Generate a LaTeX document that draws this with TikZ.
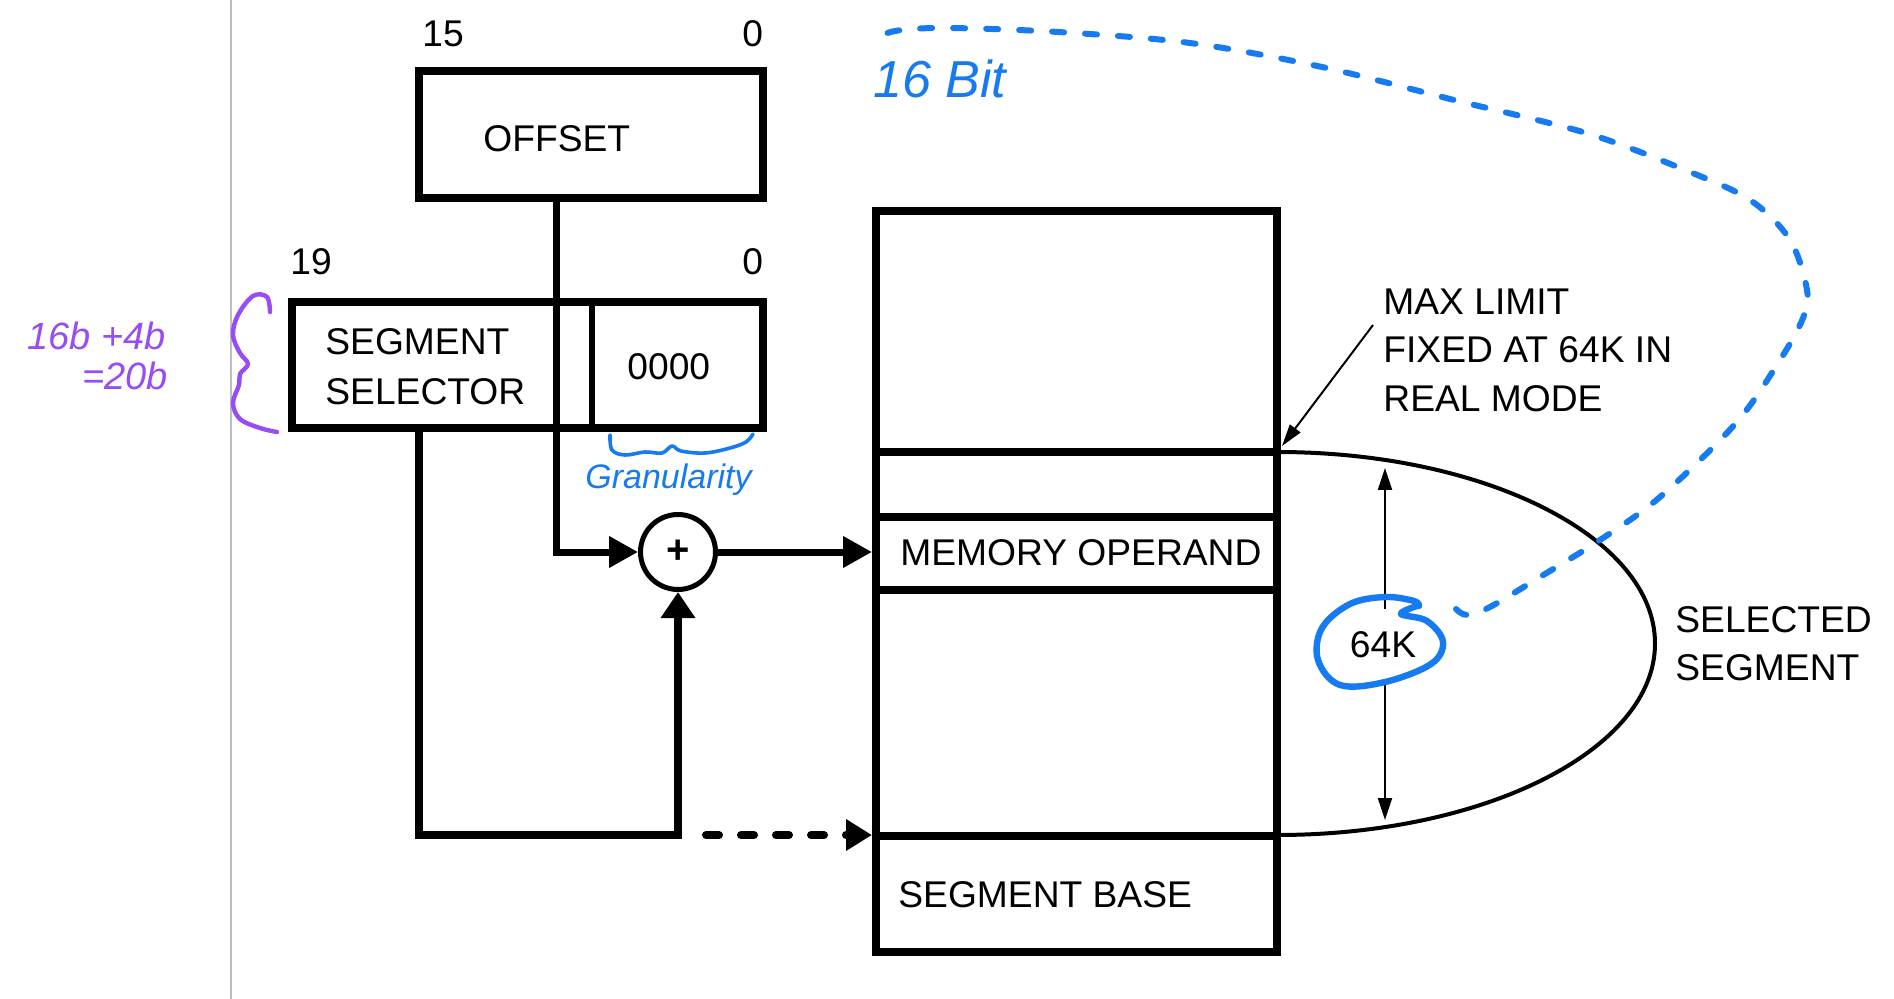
\documentclass[tikz,border=0pt]{standalone}
\usepackage{fontspec}
\setmainfont{Liberation Sans}
\usetikzlibrary{arrows.meta}
\definecolor{inkblue}{RGB}{22,122,240}
\definecolor{inkpurple}{RGB}{152,76,245}
\definecolor{rulegray}{RGB}{190,190,190}
\begin{document}
\begin{tikzpicture}[x=0.5pt,y=-0.5pt,
  lbl/.style={inner sep=0pt, anchor=base west, font=\fontsize{18.6pt}{22pt}\selectfont},
  regbox/.style={draw, line width=4pt, inner sep=0pt},
  conn/.style={line width=3.5pt},
  bigtip/.style={-{Triangle[length=14.5pt,width=15pt]}},
  uptip/.style={-{Triangle[length=13pt,width=16.5pt]}},
  thintip/.style={-{Triangle[length=11pt,width=6.5pt]}},
  hand/.style={inner sep=0pt, anchor=base west},
  inkline/.style={line width=3.2pt, line cap=round, line join=round}
]
\fill[white] (0,0) rectangle (1894,999);
\useasboundingbox (0,0) rectangle (1894,999);

% margin rule
\draw[rulegray, line width=1.3pt] (231,0) -- (231,999);

% registers and memory
\node[regbox, minimum width=172pt, minimum height=63.25pt] (offset) at (591,134.75) {};
\node[regbox, minimum width=235.5pt, minimum height=63pt] (seg) at (527.5,365) {};
\draw[line width=3.2pt] (592,302) -- (592,428);
\node[regbox, minimum width=200.5pt, minimum height=370.5pt] (mem) at (1076.5,581.5) {};
\draw[line width=4.3pt] (876,452) -- (1277,452);
\draw[line width=4pt] (876,517) -- (1277,517);
\draw[line width=4pt] (876,590) -- (1277,590);
\draw[line width=4.3pt] (876,836) -- (1277,836);
\node[draw, circle, line width=2.5pt, minimum size=37.5pt, inner sep=0pt,
      font=\bfseries\fontsize{20pt}{20pt}\selectfont] (adder) at (678,552) {+};

% labels
\node[lbl] (b15) at (422,47) {15};
\node[lbl] (b0a) at (742,47) {0};
\node[lbl] (toff) at (483,152) {OFFSET};
\node[lbl] (b19) at (290,275) {19};
\node[lbl] (b0b) at (742,275) {0};
\node[lbl] (tseg1) at (325,355) {SEGMENT};
\node[lbl] (tseg2) at (325,405) {SELECTOR};
\node[lbl] (tzero) at (627,380) {0000};
\node[lbl] (tmo) at (900,565) {MEMORY OPERAND};
\node[lbl] (tsb) at (898,907) {SEGMENT BASE};
\node[lbl] (tm1) at (1383,315) {MAX LIMIT};
\node[lbl] (tm2) at (1383,363) {FIXED AT 64K IN};
\node[lbl] (tm3) at (1383,412) {REAL MODE};
\node[lbl] (ts1) at (1675,632) {SELECTED};
\node[lbl] (ts2) at (1675,680) {SEGMENT};

% connectors
\coordinate (oj) at (556,552);
\draw[conn, bigtip] (offset.south -| oj) -- (oj) -- (adder.west);
\draw[conn, bigtip] (adder.east) -- (adder.east -| mem.west);
\coordinate (sj) at (419,835);
\coordinate (bj) at (678,835);
\draw[line width=4pt, uptip] (seg.south -| sj) -- (sj) -- (bj) -- (adder.south);
\coordinate (ds) at (706,835);
\draw[line width=4pt, line cap=round, dash pattern=on 6.5pt off 11pt,
      -{Triangle[length=13pt,width=15pt]}] (ds) -- (bj -| mem.west);

% selected segment
\coordinate (lim) at (1277,452);
\draw[line width=2pt] (lim) arc[start angle=90, end angle=-90, x radius=189pt, y radius=95.75pt];
\coordinate (dt) at (1385,468);
\coordinate (db) at (1385,820);
\draw[line width=1pt, {Triangle[length=11pt,width=7pt]}-{Triangle[length=11pt,width=7pt]}] (dt) -- (db);
\node[fill=white, inner xsep=1pt, inner ysep=0pt, minimum height=36pt,
      font=\fontsize{18.6pt}{22pt}\selectfont] (sz) at (1383,645) {64K};
\coordinate (ls) at (1373,325);
\coordinate (limtip) at (1282,446);
\draw[line width=1pt, thintip] (ls) -- (limtip);

% handwritten annotations
\node[hand, text=inkblue, font=\itshape\fontsize{26pt}{26pt}\selectfont] (h16) at (873,98) {16 Bit};
\node[hand, text=inkblue, font=\itshape\fontsize{17pt}{17pt}\selectfont] (hgr) at (585,488) {Granularity};
\node[hand, text=inkpurple, font=\itshape\fontsize{19pt}{19pt}\selectfont] (hsum1) at (27,350) {16b +4b};
\node[hand, text=inkpurple, font=\itshape\fontsize{19pt}{19pt}\selectfont] (hsum2) at (82,390) {=20b};

\draw[inkpurple, line width=2.2pt, line cap=round, line join=round] plot[smooth, tension=0.6] coordinates {
  (270,312) (267,297) (253,296) (238,315) (233,335) (240,353) (248,364)
  (240,374) (239,385) (233,403) (240,419) (260,428) (277,432)};
\draw[inkblue, line width=1.8pt, line cap=round, line join=round] plot[smooth, tension=0.6] coordinates {
  (610,435) (612,450) (625,455) (645,452) (662,453) (672,446)
  (681,451) (705,453) (730,448) (746,442) (753,434)};
\draw[inkblue, inkline] plot[smooth, tension=0.6] coordinates {
  (1417,606) (1401,614) (1427,621) (1443,642) (1431,664) (1385,682)
  (1340,685) (1318,660) (1322,628) (1350,604) (1385,597) (1414,601) (1419,606)};
\draw[inkblue, line width=3pt, line cap=round, dash pattern=on 6pt off 10.5pt] plot[smooth, tension=0.55] coordinates {
  (1456,609) (1467,615) (1490,607) (1540,577) (1600,540) (1660,497)
  (1736,423) (1780,360) (1803,318) (1807,290) (1790,240) (1750,200)
  (1685,170) (1586,133) (1454,100) (1322,67) (1190,43) (1058,32)
  (946,28) (895,31) (873,40)};
\end{tikzpicture}
\end{document}
